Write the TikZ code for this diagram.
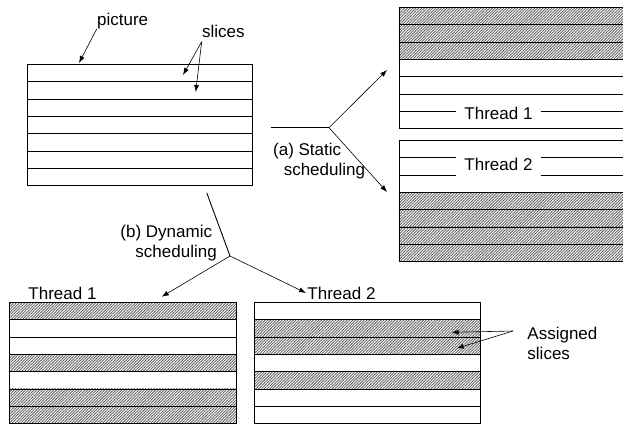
\documentclass[tikz,border=0pt]{standalone}
\usepackage{fontspec}
\setmainfont{Liberation Sans}
\usetikzlibrary{arrows.meta,patterns.meta,positioning}

\begin{document}
\begin{tikzpicture}[x=1pt, y=-1pt, line width=0.9pt,
    every node/.style={font=\fontsize{17}{20.5}\selectfont},
    label/.style={inner sep=0pt, align=left},
    slice/.style={draw, anchor=north west, inner sep=0pt,
        minimum width=226pt, minimum height=17.3pt},
    kind/.code={\ifnum#1=1 \pgfkeysalso{pattern={Lines[angle=45,distance=2pt,line width=0.9pt]},
        pattern color=black!60}\fi},
    tip/.style={-{Latex[length=7pt,width=5pt]}, line width=0.6pt}
]
\useasboundingbox (0,0) rectangle (623,424);

% the picture, cut into slices
\foreach \i in {1,...,7}
    \node[slice, minimum width=225.5pt] (pic-\i) at (26.5,{64+17.3*(\i-1)}) {};
\node[label, anchor=base west] (pic-label) at (96.7,25) {picture};
\node[label, anchor=base west] (sl-label) at (201.7,37.5) {slices};
\coordinate (pic-tip) at (79,63);
\coordinate (sl-tip1) at (183,75);
\coordinate (sl-tip2) at (195.7,92);
\draw[tip] (pic-label.south west) -- (pic-tip);
\draw[tip] ([yshift=-3.5pt]sl-label.south west) -- (sl-tip1);
\draw[tip] ([yshift=-3.5pt]sl-label.south west) -- (sl-tip2);

% (a) static: one block per thread
\foreach \k [count=\i] in {1,1,1,0,0,0,0}
    \node[slice, minimum width=224pt, kind=\k] (sa-\i) at (398.5,{7+17.3*(\i-1)}) {};
\foreach \k [count=\i] in {0,0,0,1,1,1,1}
    \node[slice, minimum width=224pt, kind=\k] (sb-\i) at (398.5,{140+17.3*(\i-1)}) {};
\node[fill=white, inner xsep=8pt, inner ysep=0pt] (sa-label) at (498.5,113.5) {Thread 1};
\node[fill=white, inner xsep=8pt, inner ysep=0pt, minimum height=24pt] (sb-label) at (498.5,164) {Thread 2};

\coordinate (st-in) at (270.5,127.7);
\coordinate (st-fork) at (329,127.7);
\coordinate (st-up) at (387,70);
\coordinate (st-down) at (387,192);
\draw (st-in) -- (st-fork);
\draw[tip] (st-fork) -- (st-up);
\draw[tip] (st-fork) -- (st-down);
\node[label, anchor=north west] (st-label) at (272.7,142.7) {(a) Static\\\hspace*{10.6pt}scheduling};

% (b) dynamic: slices handed out one by one
\foreach \k [count=\i] in {1,0,0,1,0,1,1}
    \node[slice, minimum width=226.5pt, kind=\k] (dl-\i) at (9,{302+17.3*(\i-1)}) {};
\foreach \k [count=\i] in {0,1,1,0,1,0,0}
    \node[slice, kind=\k] (dr-\i) at (254,{302+17.3*(\i-1)}) {};
\node[label, anchor=base west] (dl-label) at (28,299) {Thread 1};
\node[label, anchor=base west] (dr-label) at (307,299) {Thread 2};

\coordinate (dy-in) at (206.7,192.7);
\coordinate (dy-fork) at (230,256);
\coordinate (dy-left) at (161.7,296.7);
\draw (dy-in) -- (dy-fork);
\draw[tip] (dy-fork) -- (dy-left);
\draw[tip] (dy-fork) -- ([xshift=-1pt]dr-label.west);
\node[label, anchor=north west] (dy-label) at (120,224.5) {(b) Dynamic\\\hspace*{15pt}scheduling};

% which slices went to thread 2
\node[label, anchor=north west] (as-label) at (527,326.3) {Assigned\\slices};
\coordinate (as-from) at (513,331);
\coordinate (as-tip1) at (451.7,332.3);
\coordinate (as-tip2) at (456.7,348.3);
\draw[tip] (as-from) -- (as-tip1);
\draw[tip] (as-from) -- (as-tip2);
\end{tikzpicture}
\end{document}
